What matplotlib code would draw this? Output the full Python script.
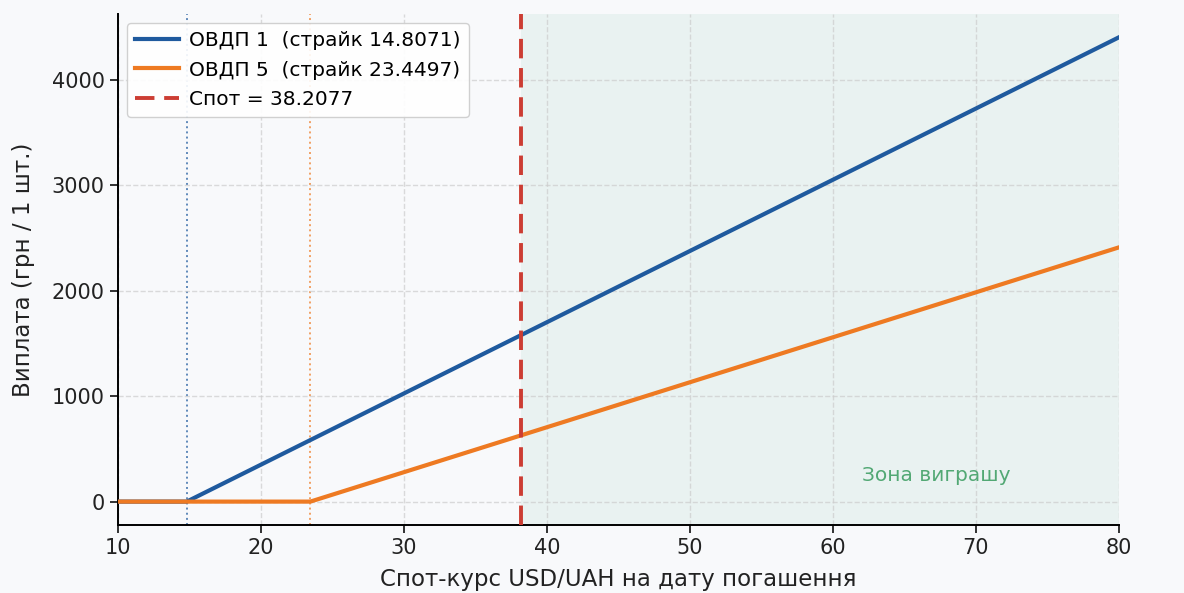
import matplotlib
matplotlib.use("Agg")
import matplotlib.pyplot as plt

# ============================
# Data
# ============================
STRIKE_1 = 14.8071
STRIKE_5 = 23.4497
SPOT = 38.2077
X_MIN, X_MAX = 10, 80

# payoff curves: flat at 0 up to strike, then straight up to x=80
ovdp1_x = [10, 14.8071, 80]
ovdp1_y = [0, 0, 4403]
ovdp5_x = [10, 23.4497, 80]
ovdp5_y = [0, 0, 2411]

label_1 = "ОВДП 1  (страйк 14.8071)"
label_5 = "ОВДП 5  (страйк 23.4497)"
label_spot = "Спот = 38.2077"
zone_text = "Зона виграшу"
zone_pos = (62, 250)

BLUE = "#1f5a9e"
ORANGE = "#ee7a22"
RED = "#cc3d33"
GREEN_TXT = "#52a874"
BG = "#f8f9fb"

# ============================
# Plot
# ============================
plt.rcParams['font.family'] = ['DejaVu Sans']

fig, ax = plt.subplots(figsize=(11.84, 5.93), dpi=100)
fig.patch.set_facecolor(BG)
ax.set_facecolor(BG)
fig.subplots_adjust(left=0.0997, right=0.945, bottom=0.115, top=0.976)

ax.axvspan(SPOT, X_MAX, color="#d8ebe6", alpha=0.45, lw=0, zorder=0)

ax.axvline(STRIKE_1, color=BLUE, ls=":", lw=1.4, alpha=0.7, zorder=1)
ax.axvline(STRIKE_5, color=ORANGE, ls=":", lw=1.4, alpha=0.7, zorder=1)

ax.plot(ovdp1_x, ovdp1_y, color=BLUE, lw=3.0, label=label_1, zorder=3)
ax.plot(ovdp5_x, ovdp5_y, color=ORANGE, lw=3.0, label=label_5, zorder=3)
ax.axvline(SPOT, color=RED, ls=(0, (5, 2.5)), lw=2.8, label=label_spot, zorder=4)

ax.text(zone_pos[0], zone_pos[1], zone_text, color=GREEN_TXT, fontsize=14.5,
        ha="left", va="center")

ax.set_xlim(X_MIN, X_MAX)
ax.set_ylim(-220, 4622)
ax.set_xticks([10, 20, 30, 40, 50, 60, 70, 80])
ax.set_yticks([0, 1000, 2000, 3000, 4000])

ax.set_xlabel("Спот-курс USD/UAH на дату погашення", fontsize=16.5,
              color="#222222", labelpad=7)
ax.set_ylabel("Виплата (грн / 1 шт.)", fontsize=16.5, color="#222222",
              labelpad=12)
ax.tick_params(labelsize=15, colors="#222222", length=6, width=1.3)

ax.grid(True, ls="--", color="#cccccc", alpha=0.7, lw=1.0)
ax.spines['top'].set_visible(False)
ax.spines['right'].set_visible(False)
ax.spines['left'].set_linewidth(1.4)
ax.spines['bottom'].set_linewidth(1.4)

leg = ax.legend(loc="upper left", bbox_to_anchor=(0.009, 0.982), borderaxespad=0,
                fontsize=14.5, frameon=True, framealpha=0.9, edgecolor="#cccccc",
                handlelength=2.2, handletextpad=0.5, labelspacing=0.5)
leg.get_frame().set_facecolor("white")

plt.savefig("out.png", dpi=100, facecolor=BG)
